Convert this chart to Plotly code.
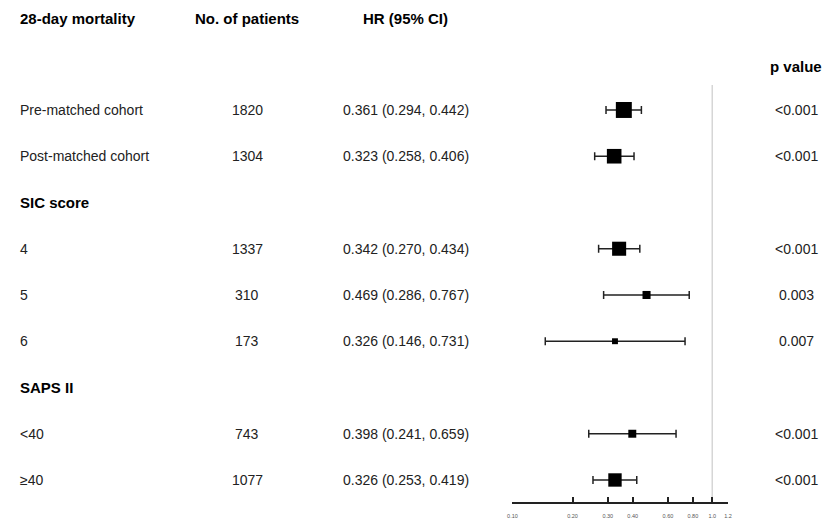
"""Forest plot: 28-day mortality hazard ratios by subgroup."""

import math

import plotly.graph_objects as go

# rows from top to bottom; None marks a section heading row
labels = ["Pre-matched cohort", "Post-matched cohort", "SIC score", "4", "5", "6",
          "SAPS II", "<40", "≥40"]
patients = ["1820", "1304", None, "1337", "310", "173", None, "743", "1077"]
hr = [0.361, 0.323, None, 0.342, 0.469, 0.326, None, 0.398, 0.326]
ci_low = [0.294, 0.258, None, 0.270, 0.286, 0.146, None, 0.241, 0.253]
ci_high = [0.442, 0.406, None, 0.434, 0.767, 0.731, None, 0.659, 0.419]
p_values = ["<0.001", "<0.001", None, "<0.001", "0.003", "0.007", None, "<0.001", "<0.001"]

headers = ["28-day mortality", "No. of patients", "HR (95% CI)"]
tick_vals = [0.10, 0.20, 0.30, 0.40, 0.60, 0.80, 1.0, 1.2]
tick_text = ["0.10", "0.20", "0.30", "0.40", "0.60", "0.80", "1.0", "1.2"]

W, H = 829, 529
FONT = "Liberation Sans, Arial, sans-serif"
TEXT = "#222222"

rows = [i for i, v in enumerate(hr) if v is not None]
xs = [hr[i] for i in rows]
ys = [i for i in rows]
plus = [ci_high[i] - hr[i] for i in rows]
minus = [hr[i] - ci_low[i] for i in rows]


def box_size(lo, hi):
    # square size scaled by inverse-variance weight
    se = (math.log(hi) - math.log(lo)) / (2 * 1.96)
    return 2.5 + 1.4 * math.sqrt(1 / se**2)


sizes = [box_size(ci_low[i], ci_high[i]) for i in rows]

fig = go.Figure()
fig.add_trace(
    go.Scatter(
        x=xs,
        y=ys,
        mode="markers",
        marker=dict(symbol="square", size=sizes, color="#000000", opacity=1,
                    line=dict(width=0)),
        error_x=dict(
            type="data",
            symmetric=False,
            array=plus,
            arrayminus=minus,
            color=TEXT,
            thickness=1.5,
            width=4,
        ),
        cliponaxis=False,
        hoverinfo="skip",
        showlegend=False,
    )
)

# reference line at HR = 1
fig.add_shape(
    type="line", xref="x", yref="y", x0=1, x1=1, y0=-0.54, y1=8.48,
    line=dict(color="#d6d6d6", width=1.5), layer="below",
)


def px(x):
    return x / W


ann = []
col_x = [13, 245, 405]
P_X = 800
for j, h in enumerate(headers):
    ann.append(dict(x=px(col_x[j]), y=-1.97, text=f"<b>{h}</b>",
                    xanchor="left" if j == 0 else "center", font=dict(size=15, color="black")))
ann.append(dict(x=px(P_X), y=-0.95, text="<b>p value</b>", xanchor="center",
                font=dict(size=15, color="black")))

for i, lab in enumerate(labels):
    if hr[i] is None:
        ann.append(dict(x=px(13), y=i, text=f"<b>{lab}</b>", xanchor="left",
                        font=dict(size=15, color="black")))
        continue
    ann.append(dict(x=px(13), y=i, text=lab, xanchor="left", font=dict(size=14, color=TEXT)))
    ann.append(dict(x=px(245), y=i, text=patients[i], xanchor="center",
                    font=dict(size=14, color=TEXT)))
    ann.append(dict(x=px(405), y=i,
                    text=f"{hr[i]:.3f} ({ci_low[i]:.3f}, {ci_high[i]:.3f})",
                    xanchor="center", font=dict(size=14, color=TEXT)))
    ann.append(dict(x=px(P_X), y=i, text=p_values[i], xanchor="center",
                    font=dict(size=14, color=TEXT)))

for a in ann:
    a.update(xref="paper", yref="y", yanchor="middle", showarrow=False)

fig.update_layout(
    width=W,
    height=H,
    margin=dict(l=0, r=0, t=0, b=27),
    paper_bgcolor="white",
    plot_bgcolor="white",
    font=dict(family=FONT, color=TEXT),
    annotations=ann,
    xaxis=dict(
        type="log",
        domain=[513 / W, 731 / W],
        range=[math.log10(0.1), math.log10(1.2)],
        tickvals=tick_vals,
        ticktext=tick_text,
        tickfont=dict(size=5.5, color="#555555"),
        ticks="inside",
        ticklen=5,
        tickwidth=1.5,
        tickcolor=TEXT,
        showline=True,
        linecolor=TEXT,
        linewidth=1.5,
        showgrid=False,
        zeroline=False,
        ticklabelstandoff=8,
    ),
    yaxis=dict(
        range=[8.476, -2.378],
        visible=False,
        showgrid=False,
        zeroline=False,
    ),
)

# drop the default page margin and scrollbars so the figure fills the window
fig.write_html(
    "out.html",
    config={"displayModeBar": False, "responsive": False},
    post_script="document.body.style.margin='0';document.body.style.overflow='hidden';",
)
